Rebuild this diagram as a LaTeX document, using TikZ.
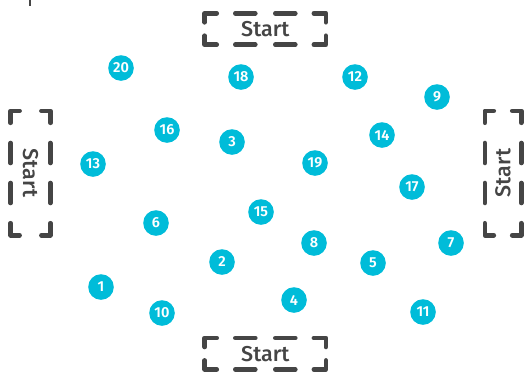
\documentclass[tikz,border=0pt]{standalone}
\usepackage{fontspec}
\newfontfamily\startfont{Fira Sans Medium}
\newfontfamily\numfont{Fira Sans SemiBold}
\definecolor{cy}{HTML}{00BCD9}
\definecolor{dk}{HTML}{454545}
\tikzset{
  num/.style={circle, fill=cy, inner sep=0pt, minimum size=25.6pt, text=white,
    font=\numfont\fontsize{14.5}{14.5}\selectfont},
  boxline/.style={draw=dk, line width=4.6pt, line cap=round, line join=round},
  startlbl/.style={text=dk, font=\startfont\fontsize{21.5}{21.5}\selectfont, inner sep=0pt},
  widebox/.style={startlbl, minimum width=120.7pt, minimum height=31pt},
  tallbox/.style={startlbl, minimum height=124pt},
}
\newcommand\wideframe[1]{%
  \draw[boxline] ([xshift=12pt]#1.north west) -- (#1.north west) -- ([yshift=-9pt]#1.north west);
  \draw[boxline] ([xshift=-12pt]#1.north east) -- (#1.north east) -- ([yshift=-9pt]#1.north east);
  \draw[boxline] ([xshift=12pt]#1.south west) -- (#1.south west) -- ([yshift=9pt]#1.south west);
  \draw[boxline] ([xshift=-12pt]#1.south east) -- (#1.south east) -- ([yshift=9pt]#1.south east);
  \foreach \s in {north,south}{
    \draw[boxline] ([xshift=-30pt]#1.\s) -- ([xshift=-10pt]#1.\s);
    \draw[boxline] ([xshift=10pt]#1.\s) -- ([xshift=30pt]#1.\s);}
}
\newcommand\tallframe[1]{%
  \draw[boxline] ([yshift=-12pt]#1.north west) -- (#1.north west) -- ([xshift=9pt]#1.north west);
  \draw[boxline] ([yshift=-12pt]#1.north east) -- (#1.north east) -- ([xshift=-9pt]#1.north east);
  \draw[boxline] ([yshift=12pt]#1.south west) -- (#1.south west) -- ([xshift=9pt]#1.south west);
  \draw[boxline] ([yshift=12pt]#1.south east) -- (#1.south east) -- ([xshift=-9pt]#1.south east);
  \foreach \s in {west,east}{
    \draw[boxline] ([yshift=-30pt]#1.\s) -- ([yshift=-10pt]#1.\s);
    \draw[boxline] ([yshift=10pt]#1.\s) -- ([yshift=30pt]#1.\s);}
}
\begin{document}
\begin{tikzpicture}[x=1pt,y=-1pt]
\useasboundingbox (0,0) rectangle (524,381);
% stray mark at top left
\draw[dk, line width=2pt] (29.5,0) -- (29.5,6);
% start boxes
\node[widebox] (stop) at (265.3,29) {Start};
\node[widebox] (sbot) at (265.3,353.7) {Start};
\node[tallbox, minimum width=39.4pt] (sleft) at (30.5,173) {\rotatebox{-90}{Start}};
\node[tallbox, minimum width=36pt] (sright) at (503,173) {\rotatebox{90}{Start}};
\wideframe{stop}
\wideframe{sbot}
\tallframe{sleft}
\tallframe{sright}
% numbered circles
\foreach \n/\x/\y in {1/101/287, 2/222/262, 3/232/142, 4/294/300, 5/373/263,
  6/156/223, 7/451/243, 8/314/243, 9/437/97, 10/162/313, 11/423/312,
  12/355/77, 13/93/164, 14/382/135, 15/261/212, 16/167/130, 17/412/187,
  18/241/77, 19/315/163, 20/121/68}
  \node[num] (c\n) at (\x,\y) {\n};
\end{tikzpicture}
\end{document}
